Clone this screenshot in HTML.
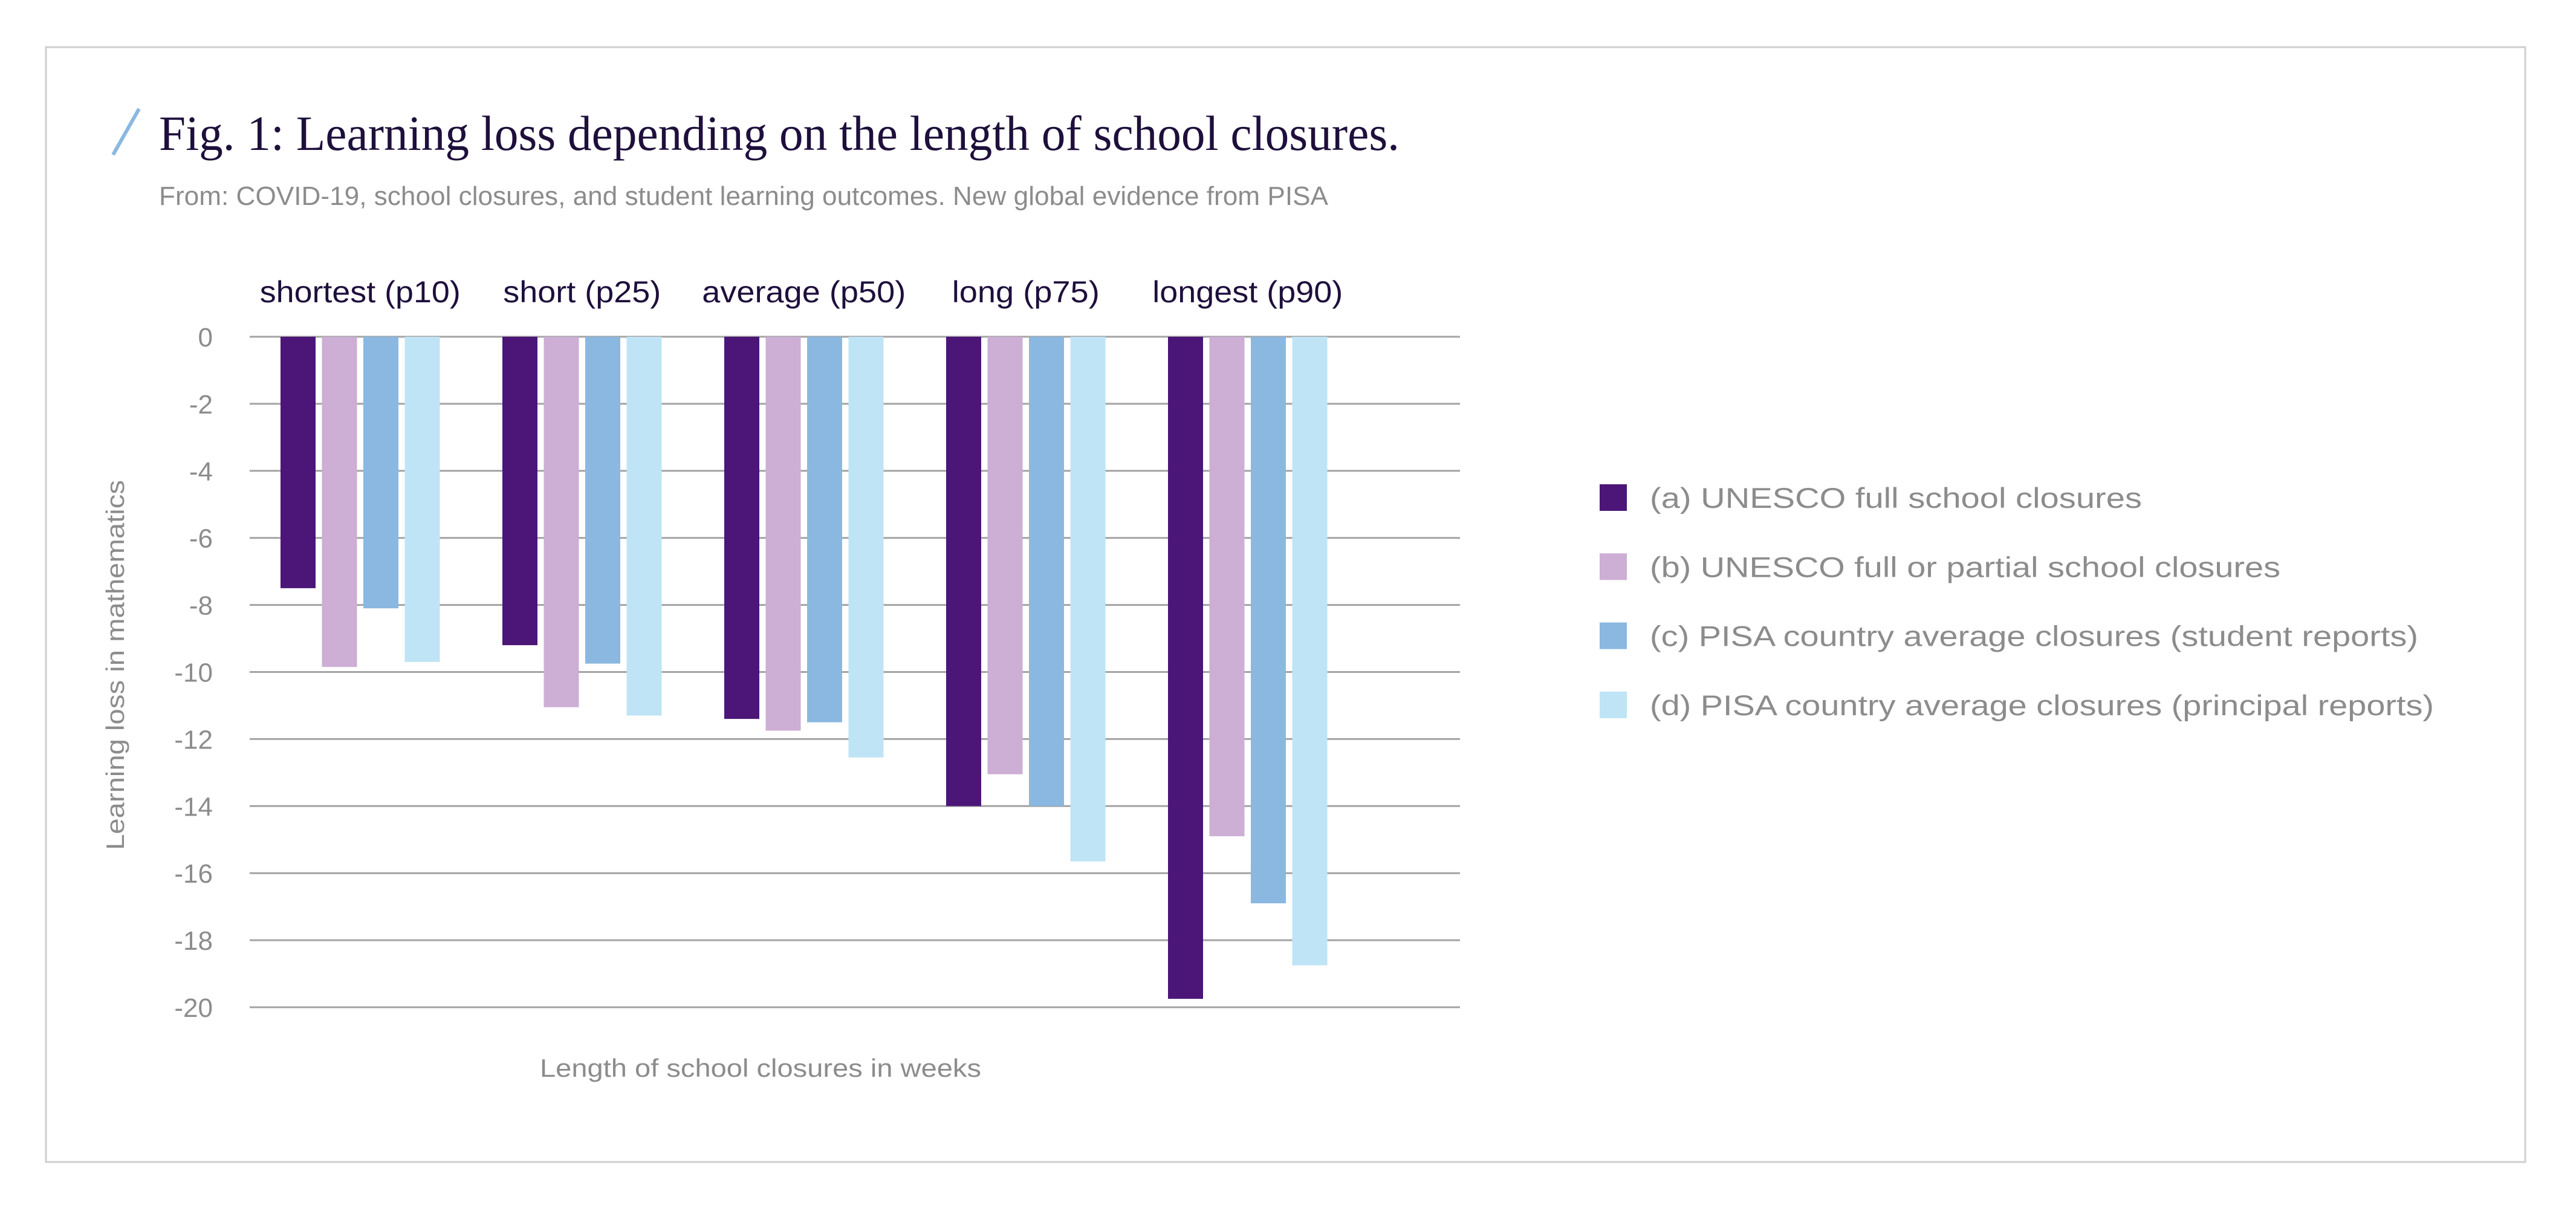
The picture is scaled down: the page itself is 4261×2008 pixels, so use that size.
<!DOCTYPE html>
<html><head><meta charset="utf-8"><style>
html,body{margin:0;padding:0;background:#fff;}
svg{display:block;}
</style></head><body>
<svg id="chart" width="4261" height="2008" viewBox="0 0 4261 2008" xmlns="http://www.w3.org/2000/svg">
<rect x="76" y="78" width="4101" height="1844" fill="#fff" stroke="#cfcfcf" stroke-width="3"/>
<line x1="230" y1="180" x2="187" y2="256" stroke="#8ab8e0" stroke-width="6"/>
<text x="263" y="248" font-family="Liberation Serif, serif" font-size="82" fill="#1e0f3c" textLength="2052" lengthAdjust="spacingAndGlyphs">Fig. 1: Learning loss depending on the length of school closures.</text>
<text x="263" y="339" font-family="Liberation Sans, sans-serif" font-size="44" fill="#8c8c8c" textLength="1934" lengthAdjust="spacingAndGlyphs">From: COVID-19, school closures, and student learning outcomes. New global evidence from PISA</text>
<g id="grid"></g>
<g id="bars"></g>
<g id="cats"></g>
<text transform="translate(205,1100) rotate(-90)" text-anchor="middle" font-family="Liberation Sans, sans-serif" font-size="42" fill="#8c8c8c" textLength="612" lengthAdjust="spacingAndGlyphs">Learning loss in mathematics</text>
<text x="893" y="1781" font-family="Liberation Sans, sans-serif" font-size="42" fill="#8c8c8c" textLength="730" lengthAdjust="spacingAndGlyphs">Length of school closures in weeks</text>
<g id="legend"></g>
</svg>
<script>
const categories = ["shortest (p10)", "short (p25)", "average (p50)", "long (p75)", "longest (p90)"];
const catLabelWidths = [332, 261, 337, 244, 315];
const seriesNames = ["(a) UNESCO full school closures", "(b) UNESCO full or partial school closures", "(c) PISA country average closures (student reports)", "(d) PISA country average closures (principal reports)"];
const seriesA = [-7.5, -9.2, -11.4, -14.0, -19.75];
const seriesB = [-9.85, -11.05, -11.75, -13.05, -14.9];
const seriesC = [-8.1, -9.75, -11.5, -14.0, -16.9];
const seriesD = [-9.7, -11.3, -12.55, -15.65, -18.75];
const yTicks = [0, -2, -4, -6, -8, -10, -12, -14, -16, -18, -20];
const colors = ["#4b1678", "#cdaed4", "#8ab8e0", "#bfe4f5"];
const legendWidths = [814, 1043, 1271, 1297];

const NS = "http://www.w3.org/2000/svg";
const y0 = 557, unit = 55.45;
const yScale = v => y0 - v * unit;
const groupX = i => 464 + i * 367;
const barW = 58, barPitch = 68.5;
function mk(tag, attrs, parent){const e=document.createElementNS(NS,tag);for(const k in attrs)e.setAttribute(k,attrs[k]);parent.appendChild(e);return e;}

const grid = document.getElementById('grid');
yTicks.forEach(t => {
  const y = yScale(t);
  const l = mk('line', {x1:413, x2:2415, y1:y, y2:y, stroke:'#a3a3a3', 'stroke-width':3}, grid);
  
  
  const tx = mk('text', {x:352, y:y+16, 'text-anchor':'end', 'font-family':'Liberation Sans, sans-serif', 'font-size':44, fill:'#8c8c8c'}, grid);
  tx.textContent = t;
  
  
});

const barsG = document.getElementById('bars');
const allSeries = [seriesA, seriesB, seriesC, seriesD];
allSeries.forEach((s, si) => {
  s.forEach((v, ci) => {
    const x = groupX(ci) + si * barPitch;
    const r = mk('rect', {x:x, y:yScale(0), width:barW, height:yScale(v)-yScale(0), fill:colors[si]}, barsG);
    
    
  });
});

const catsG = document.getElementById('cats');
categories.forEach((c, i) => {
  const cx = groupX(i) + (3 * barPitch + barW) / 2;
  const t = mk('text', {x:cx, y:500, 'text-anchor':'middle', 'font-family':'Liberation Sans, sans-serif', 'font-size':50, fill:'#1e0f3c', textLength:catLabelWidths[i], lengthAdjust:'spacingAndGlyphs'}, catsG);
  t.textContent = c;
  
  
});

const legG = document.getElementById('legend');
seriesNames.forEach((n, i) => {
  const cy = 823 + i * 114.3;
  const r = mk('rect', {x:2646, y:cy-22, width:45, height:44, fill:colors[i]}, legG);
  
  
  const t = mk('text', {x:2729, y:cy+17, 'font-family':'Liberation Sans, sans-serif', 'font-size':47, fill:'#8c8c8c', textLength:legendWidths[i], lengthAdjust:'spacingAndGlyphs'}, legG);
  t.textContent = n;
  
  
});
</script>
</body></html>
